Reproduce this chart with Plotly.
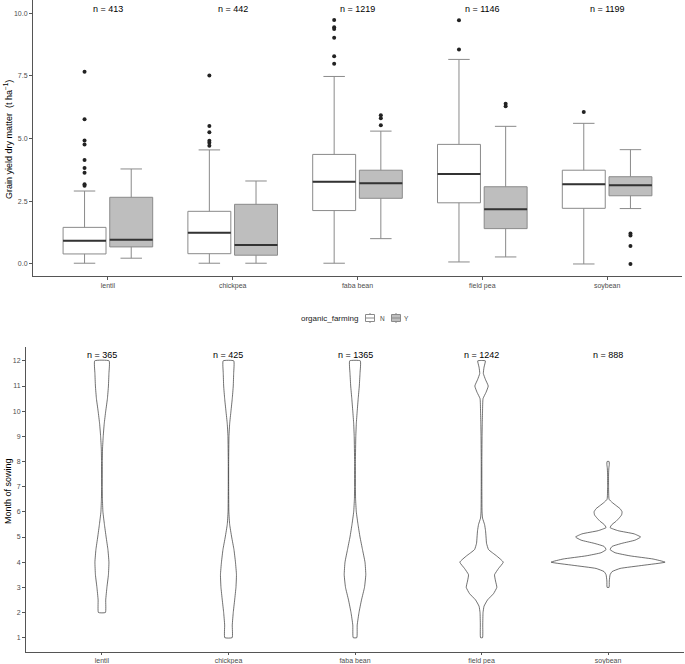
import plotly.graph_objects as go

# ---------------- data ----------------
crops = ["lentil", "chickpea", "faba bean", "field pea", "soybean"]

# Grain yield box statistics (t ha-1), organic_farming = N
n_q1 = [0.40, 0.41, 2.13, 2.44, 2.22]
n_med = [0.93, 1.25, 3.28, 3.59, 3.18]
n_q3 = [1.46, 2.10, 4.37, 4.77, 3.74]
n_lo = [0.03, 0.03, 0.03, 0.08, 0.00]
n_hi = [2.91, 4.55, 7.48, 8.16, 5.61]
n_out = [
    [7.67, 5.77, 4.93, 4.77, 4.15, 3.83, 3.64, 3.18, 3.12],
    [7.52, 5.50, 5.25, 4.92, 4.84, 4.72],
    [9.73, 9.44, 9.37, 9.02, 8.29, 7.99],
    [9.72, 8.56],
    [6.06],
]
# organic_farming = Y
y_q1 = [0.68, 0.35, 2.62, 1.41, 2.72]
y_med = [0.97, 0.76, 3.22, 2.18, 3.14]
y_q3 = [2.66, 2.38, 3.74, 3.08, 3.48]
y_lo = [0.23, 0.03, 1.01, 0.28, 2.21]
y_hi = [3.79, 3.31, 5.30, 5.49, 4.56]
y_out = [
    [],
    [],
    [5.93, 5.81, 5.53],
    [6.39, 6.29],
    [1.22, 1.14, 0.72, 0.00],
]
n_yield = [413, 442, 1219, 1146, 1199]
groups = ["N", "Y"]

# Month of sowing violin profiles (month, relative half-width)
vio_month = {
    "lentil": [2, 2.5, 3, 3.5, 4, 4.5, 5, 5.5, 6, 6.5, 7, 8, 8.5, 9, 9.5, 10, 10.5, 11, 11.5, 12],
    "chickpea": [1, 1.5, 2, 2.5, 3, 3.5, 4, 4.5, 5, 5.5, 6, 7, 8, 9, 9.5, 10, 10.5, 11, 11.5, 12],
    "faba bean": [1, 1.5, 2, 2.5, 3, 3.5, 4, 4.5, 5, 5.5, 6, 6.5, 7, 8, 9, 9.5, 10, 10.5, 11, 11.5, 12],
    "field pea": [1, 1.5, 2, 2.25, 2.5, 2.75, 3, 3.25, 3.5, 3.75, 4, 4.25, 4.5, 4.75, 5, 5.25, 5.5, 5.75,
                  6, 7, 8, 9, 9.5, 10, 10.5, 10.75, 11, 11.25, 11.5, 11.75, 12],
    "soybean": [3, 3.25, 3.5, 3.625, 3.75, 3.875, 4, 4.125, 4.25, 4.375, 4.5, 4.625, 4.75, 4.875, 5,
                5.125, 5.25, 5.375, 5.5, 5.625, 5.75, 5.875, 6, 6.125, 6.25, 6.375, 6.5, 7, 7.5, 7.75,
                7.875, 8],
}
vio_width = {
    "lentil": [3.5, 3.8, 5.0, 6.5, 7.0, 6.0, 4.2, 2.5, 1.0, 0.5, 0.3, 0.4, 0.6, 1.3, 2.3, 3.8, 5.5, 6.5, 7.0, 7.2],
    "chickpea": [3.7, 3.8, 4.8, 6.2, 7.5, 8.0, 7.0, 5.5, 3.2, 1.2, 0.4, 0.2, 0.2, 0.5, 1.2, 2.5, 3.8, 4.8, 5.2, 5.3],
    "faba bean": [1.8, 2.2, 4.0, 6.5, 9.5, 10.8, 10.0, 7.5, 5.0, 3.0, 1.3, 0.6, 0.4, 0.4, 0.8, 1.3, 2.2, 3.2, 4.3, 5.0, 5.3],
    "field pea": [1.0, 1.2, 1.5, 2.5, 6.0, 12.0, 15.3, 14.0, 13.0, 17.0, 21.7, 15.0, 7.0, 5.0, 4.5, 4.0, 3.0, 1.0,
                  0.5, 0.3, 0.3, 0.5, 0.7, 1.0, 1.5, 4.5, 6.7, 4.0, 1.8, 2.5, 3.8],
    "soybean": [1.0, 1.2, 2.0, 4.0, 12.0, 35.0, 57.0, 45.0, 22.0, 7.0, 2.0, 4.0, 14.0, 27.0, 32.5,
                26.0, 10.0, 2.0, 4.0, 8.0, 11.0, 13.5, 14.0, 12.0, 8.0, 4.0, 1.0, 0.5, 0.5, 0.8,
                1.2, 1.0],
}
n_month = [365, 425, 1365, 1242, 888]

# ---------------- style ----------------
FONT = "Liberation Sans"
AX = "#555555"
TICKC = "#4d4d4d"
BOXLINE = "#8a8a8a"
FILLS = {"N": "white", "Y": "#bebebe"}
DODGE = 0.187
BOXW = 0.344
VSCALE = 1 / 126.5
W, H = 685, 664

fig = go.Figure()

xpos = list(range(len(crops)))

for name, q1, med, q3, lo, hi, outs, off in [
    ("N", n_q1, n_med, n_q3, n_lo, n_hi, n_out, -DODGE),
    ("Y", y_q1, y_med, y_q3, y_lo, y_hi, y_out, DODGE),
]:
    xs = [i + off for i in xpos]
    fig.add_trace(go.Box(
        x=xs, q1=q1, median=med, q3=q3, lowerfence=lo, upperfence=hi,
        width=BOXW, name=name, fillcolor=FILLS[name],
        line=dict(color=BOXLINE, width=1), boxpoints=False,
        xaxis="x", yaxis="y", showlegend=False, hoverinfo="skip",
    ))
    # median overlay (thicker, darker)
    mx, my = [], []
    for x, m in zip(xs, med):
        mx += [x - BOXW / 2, x + BOXW / 2, None]
        my += [m, m, None]
    fig.add_trace(go.Scatter(x=mx, y=my, mode="lines", line=dict(color="#333333", width=2),
                             showlegend=False, xaxis="x", yaxis="y", hoverinfo="skip"))
    ox, oy = [], []
    for x, o in zip(xs, outs):
        ox += [x] * len(o)
        oy += o
    fig.add_trace(go.Scatter(x=ox, y=oy, mode="markers", marker=dict(color="#222222", size=4),
                             showlegend=False, xaxis="x", yaxis="y", hoverinfo="skip"))

# violins
for i, c in enumerate(crops):
    m = vio_month[c]
    w = vio_width[c]
    px = [i + v * VSCALE for v in w] + [i - v * VSCALE for v in reversed(w)] + [i + w[0] * VSCALE]
    py = list(m) + list(reversed(m)) + [m[0]]
    fig.add_trace(go.Scatter(x=px, y=py, mode="lines", fill="toself", fillcolor="white",
                             line=dict(color="#333333", width=0.7, shape="spline", smoothing=0.4),
                             showlegend=False, xaxis="x2", yaxis="y2", hoverinfo="skip"))

annotations = []
for i, n in enumerate(n_yield):
    annotations.append(dict(x=i, y=10.17, xref="x", yref="y", text=f"n = {n}", showarrow=False,
                            font=dict(family=FONT, size=9, color="black")))
for i, n in enumerate(n_month):
    annotations.append(dict(x=i, y=12.23, xref="x2", yref="y2", text=f"n = {n}", showarrow=False,
                            font=dict(family=FONT, size=9, color="black")))
annotations.append(dict(x=8 / W, y=1 - 140 / H, xref="paper", yref="paper", xanchor="center",
                        yanchor="middle",
                        text="Grain yield dry matter  (t ha<sup>−1</sup>)", textangle=-90,
                        showarrow=False, font=dict(family=FONT, size=9, color="black")))
annotations.append(dict(x=8 / W, y=1 - 491 / H, xref="paper", yref="paper", xanchor="center",
                        yanchor="middle",
                        text="Month of sowing", textangle=-90,
                        showarrow=False, font=dict(family=FONT, size=9, color="black")))

# custom legend (organic_farming)
LEG_Y = 318
annotations.append(dict(x=360 / W, y=1 - LEG_Y / H, xref="paper", yref="paper", xanchor="right",
                        yanchor="middle", text="organic_farming", showarrow=False,
                        font=dict(family=FONT, size=8, color="#222222")))
shapes = []


def px_(v):
    return v / W


def py_(v):
    return 1 - v / H


for g, cx, tx in [("N", 370, 378), ("Y", 396, 402)]:
    shapes.append(dict(type="line", xref="paper", yref="paper", x0=px_(cx), x1=px_(cx),
                       y0=py_(LEG_Y - 5), y1=py_(LEG_Y + 5), line=dict(color=BOXLINE, width=1)))
    shapes.append(dict(type="rect", xref="paper", yref="paper", x0=px_(cx - 4.5), x1=px_(cx + 4.5),
                       y0=py_(LEG_Y - 3.5), y1=py_(LEG_Y + 3.5), fillcolor=FILLS[g],
                       line=dict(color=BOXLINE, width=1)))
    shapes.append(dict(type="line", xref="paper", yref="paper", x0=px_(cx - 4.5), x1=px_(cx + 4.5),
                       y0=py_(LEG_Y), y1=py_(LEG_Y), line=dict(color=BOXLINE, width=1)))
    annotations.append(dict(x=tx / W, y=1 - LEG_Y / H, xref="paper", yref="paper", xanchor="left",
                            yanchor="middle", text=g, showarrow=False,
                            font=dict(family=FONT, size=6.5, color=TICKC)))

axis_common = dict(showline=True, linecolor=AX, linewidth=1, showgrid=False, zeroline=False,
                   ticks="outside", ticklen=3, tickcolor=AX,
                   tickfont=dict(family=FONT, size=7, color=TICKC))

fig.update_layout(
    width=W, height=H,
    margin=dict(l=0, r=0, t=0, b=0),
    paper_bgcolor="white", plot_bgcolor="white",
    boxmode="overlay",
    showlegend=False,
    font=dict(family=FONT, size=8, color="black"),
    xaxis=dict(domain=[33 / W, 682 / W], range=[-0.6, 4.6], tickvals=xpos, ticktext=crops,
               anchor="y", **axis_common),
    yaxis=dict(domain=[1 - 276 / H, 1.0], range=[-0.48, 10.53], tickvals=[0, 2.5, 5, 7.5, 10],
               tickformat=".1f", anchor="x", **axis_common),
    xaxis2=dict(domain=[26 / W, 684 / W], range=[-0.6, 4.6], tickvals=xpos, ticktext=crops,
                anchor="y2", **dict(axis_common, ticklen=2)),
    yaxis2=dict(domain=[12 / H, 1 - 347 / H], range=[0.43, 12.55], tickvals=list(range(1, 13)),
                anchor="x2", **axis_common),
    annotations=annotations,
    shapes=shapes,
)

fig.write_html("out.html", config={"displayModeBar": False},
               post_script="document.body.style.margin='0px';document.body.style.overflow='hidden';")
